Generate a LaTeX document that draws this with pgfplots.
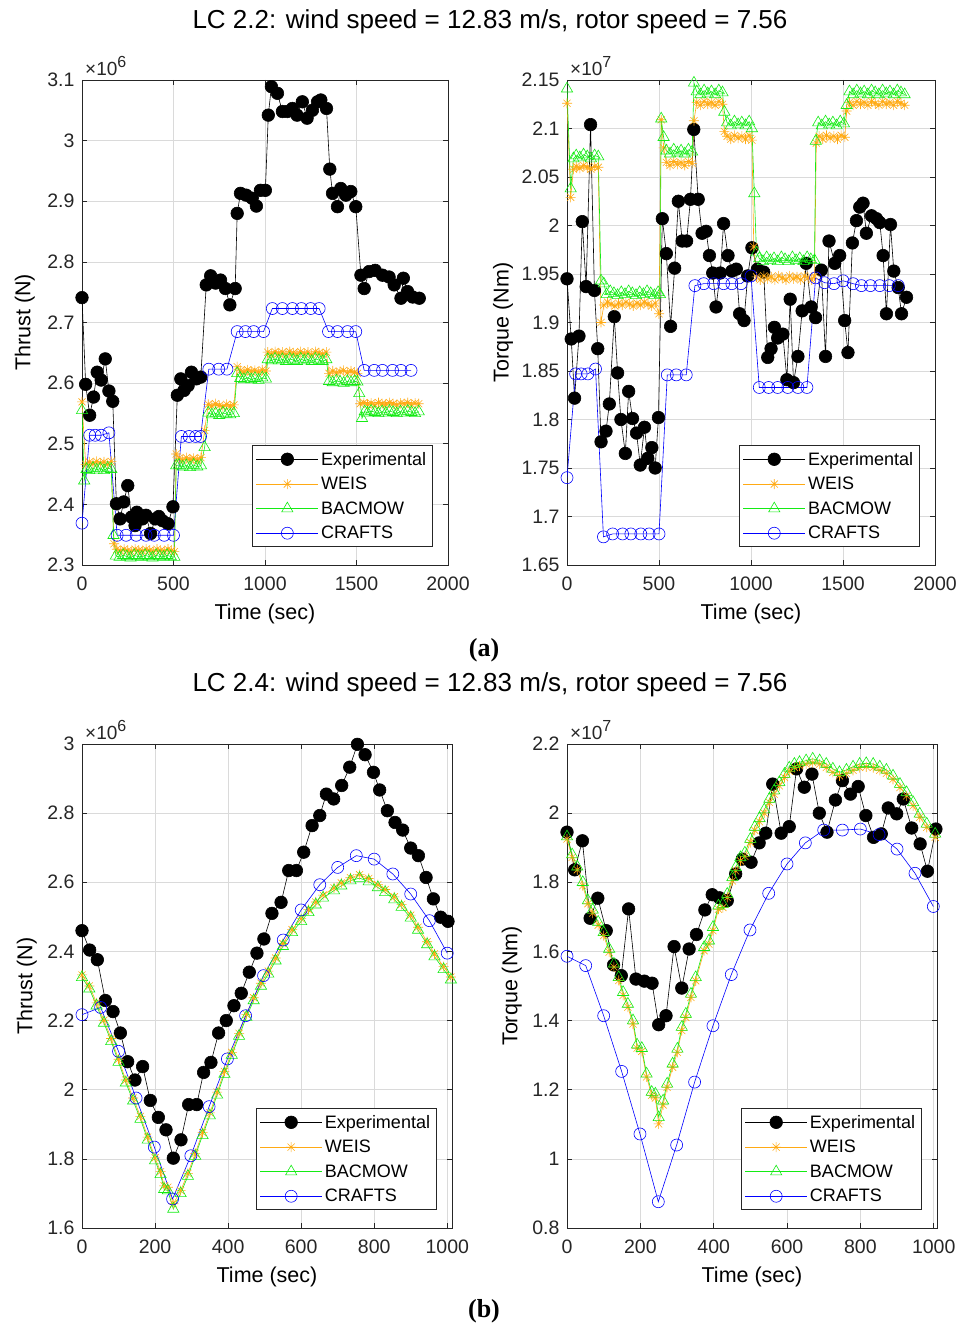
\documentclass[border=0pt]{standalone}
\usepackage{fontspec}
\setmainfont{Liberation Sans}
\newfontfamily\seriffont{Liberation Serif}
\usepackage{pgfplots}
\pgfplotsset{compat=1.18}
\definecolor{weis}{RGB}{255,170,20}
\definecolor{bac}{RGB}{20,235,20}
\definecolor{crafts}{RGB}{0,0,255}
\definecolor{axgray}{RGB}{38,38,38}
\definecolor{gridgray}{RGB}{218,218,218}
\pgfdeclareplotmark{ast8}{%
 \pgfpathmoveto{\pgfqpoint{-\pgfplotmarksize}{0pt}}\pgfpathlineto{\pgfqpoint{\pgfplotmarksize}{0pt}}%
 \pgfpathmoveto{\pgfqpoint{0pt}{-\pgfplotmarksize}}\pgfpathlineto{\pgfqpoint{0pt}{\pgfplotmarksize}}%
 \pgfpathmoveto{\pgfqpoint{-0.707\pgfplotmarksize}{-0.707\pgfplotmarksize}}\pgfpathlineto{\pgfqpoint{0.707\pgfplotmarksize}{0.707\pgfplotmarksize}}%
 \pgfpathmoveto{\pgfqpoint{-0.707\pgfplotmarksize}{0.707\pgfplotmarksize}}\pgfpathlineto{\pgfqpoint{0.707\pgfplotmarksize}{-0.707\pgfplotmarksize}}%
 \pgfusepathqstroke}
\pgfplotsset{
 mat/.style={
  scale only axis, anchor=south west,
  axis line style={axgray, line width=0.7pt},
  tick style={axgray, line width=0.7pt},
  major tick length=5pt,
  tick align=inside, tick pos=both,
  grid=major,
  major grid style={gridgray, line width=0.6pt},
  scaled ticks=false,
  /pgf/number format/1000 sep={},
  /pgf/number format/assume math mode=true,
  ticklabel style={font=\fontsize{19.5}{21}\selectfont, text=black!85},
  xticklabel style={yshift=-8pt},
  yticklabel style={xshift=-4pt},
  clip marker paths=false,
  legend style={font=\fontsize{18}{20}\selectfont, draw=axgray, fill=white, line width=0.6pt,
    at={(0.959,0.037)}, anchor=south east, cells={anchor=west},
    nodes={inner xsep=2.5pt, inner ysep=1pt}, inner xsep=4pt, inner ysep=5.5pt, row sep=8.5pt},
  legend image code/.code={\draw[mark repeat=2,mark phase=2] plot coordinates {(0pt,0pt) (31pt,0pt) (62pt,0pt)};},
  legend entries={Experimental,WEIS,BACMOW,CRAFTS},
 },
 expstyle/.style={black, line width=0.6pt, mark=*, mark size=6.3pt, mark options={solid}},
 weisstyle/.style={weis, line width=0.6pt, mark=ast8, mark size=5pt, mark options={solid}},
 bacstyle/.style={bac, line width=0.6pt, mark=triangle, mark size=6.5pt, mark options={solid}},
 craftsstyle/.style={crafts, line width=0.6pt, mark=o, mark size=6pt, mark options={solid}},
}
\newcommand{\lbl}{\fontsize{21.5}{23}\selectfont}
\newcommand{\ttl}{\fontsize{21}{23}\selectfont\bfseries}
\newcommand{\bigtitle}{\fontsize{26}{28}\selectfont}
\newcommand{\expolabel}[1]{\fontsize{19}{21}\selectfont\char"00D7 10\raisebox{8.5pt}{\fontsize{16}{18}\selectfont #1}}
\begin{document}
\begin{tikzpicture}
\useasboundingbox (0pt,0pt) rectangle (965pt,1327pt);
\node[font=\bigtitle] at (490pt,1305pt) {LC 2.2: wind speed = 12.83 m/s, rotor speed = 7.56};
\node[font=\bigtitle] at (490pt,642pt) {LC 2.4: wind speed = 12.83 m/s, rotor speed = 7.56};
\node[font=\seriffont\bfseries\fontsize{26}{28}\selectfont] at (484pt,677pt) {(a)};
\node[font=\seriffont\bfseries\fontsize{26}{28}\selectfont] at (484pt,16pt) {(b)};
% exponent labels
\node[anchor=base west, inner sep=0pt, text=black!85] at (85pt,1251pt) {\expolabel{6}};
\node[anchor=base west, inner sep=0pt, text=black!85] at (570pt,1251pt) {\expolabel{7}};
\node[anchor=base west, inner sep=0pt, text=black!85] at (85pt,587pt) {\expolabel{6}};
\node[anchor=base west, inner sep=0pt, text=black!85] at (570pt,587pt) {\expolabel{7}};

% ---------------- Top-left: Thrust LC 2.2
\begin{axis}[mat, at={(82pt,762pt)}, width=366pt, height=485pt,
  xmin=0, xmax=2000, ymin=2.3, ymax=3.1,
  xtick={0,500,1000,1500,2000}, ytick={2.3,2.4,2.5,2.6,2.7,2.8,2.9,3.0,3.1},
  xlabel={\lbl Time (sec)}, ylabel={\lbl Thrust (N)},
  xlabel style={at={(axis description cs:0.5,-0.101)}, anchor=center},
  ylabel style={at={(axis description cs:-0.156,0.5)}, anchor=center}]
\addplot[expstyle] coordinates {(0,2.741)(20,2.598)(42,2.547)(63,2.577)(83,2.618)(105,2.605)(127,2.640)(147,2.587)(168,2.570)(188,2.401)(208,2.376)(228,2.404)(250,2.431)(270,2.379)(290,2.365)(300,2.387)(330,2.376)(350,2.382)(375,2.352)(400,2.376)(420,2.380)(440,2.373)(470,2.368)(497,2.396)(521,2.580)(540,2.607)(558,2.588)(580,2.596)(598,2.618)(625,2.607)(649,2.610)(679,2.762)(703,2.777)(730,2.765)(757,2.770)(784,2.756)(808,2.729)(837,2.756)(848,2.880)(866,2.913)(897,2.910)(929,2.905)(953,2.892)(975,2.918)(1002,2.918)(1018,3.042)(1035,3.089)(1068,3.078)(1095,3.048)(1122,3.048)(1150,3.053)(1175,3.042)(1204,3.064)(1230,3.037)(1259,3.050)(1287,3.064)(1305,3.067)(1336,3.053)(1354,2.953)(1369,2.913)(1396,2.891)(1414,2.921)(1442,2.910)(1469,2.916)(1496,2.891)(1524,2.778)(1542,2.756)(1569,2.784)(1602,2.786)(1642,2.778)(1678,2.775)(1706,2.762)(1743,2.740)(1756,2.773)(1779,2.751)(1807,2.742)(1843,2.740)};
\addplot[weisstyle] coordinates {(0,2.569)(20,2.466)(40,2.470)(60,2.467)(80,2.471)(100,2.468)(120,2.470)(140,2.466)(160,2.471)(175,2.335)(190,2.326)(210,2.323)(230,2.326)(250,2.324)(270,2.322)(290,2.326)(310,2.324)(330,2.323)(350,2.326)(370,2.324)(390,2.322)(410,2.326)(430,2.324)(450,2.323)(470,2.326)(490,2.324)(505,2.322)(515,2.483)(530,2.476)(550,2.473)(570,2.477)(590,2.474)(610,2.476)(630,2.473)(650,2.477)(670,2.522)(690,2.565)(710,2.562)(730,2.566)(750,2.563)(770,2.561)(790,2.565)(810,2.562)(830,2.564)(848,2.627)(865,2.621)(885,2.618)(905,2.622)(925,2.619)(945,2.621)(965,2.618)(985,2.622)(1005,2.620)(1015,2.651)(1035,2.648)(1055,2.652)(1075,2.649)(1095,2.651)(1115,2.647)(1135,2.652)(1155,2.650)(1175,2.648)(1195,2.652)(1215,2.649)(1235,2.651)(1255,2.647)(1275,2.652)(1295,2.650)(1315,2.648)(1335,2.651)(1350,2.616)(1370,2.620)(1390,2.617)(1410,2.619)(1430,2.621)(1450,2.617)(1470,2.620)(1490,2.618)(1505,2.616)(1520,2.566)(1540,2.568)(1560,2.565)(1580,2.567)(1600,2.564)(1620,2.568)(1640,2.566)(1660,2.565)(1680,2.568)(1700,2.566)(1720,2.564)(1740,2.567)(1760,2.566)(1780,2.568)(1800,2.565)(1820,2.567)(1840,2.566)};
\addplot[bacstyle] coordinates {(0,2.555)(12,2.439)(25,2.458)(40,2.456)(60,2.460)(80,2.457)(100,2.459)(120,2.456)(140,2.460)(160,2.458)(172,2.349)(185,2.315)(205,2.313)(225,2.316)(245,2.314)(265,2.312)(285,2.316)(305,2.314)(325,2.313)(345,2.316)(365,2.314)(385,2.312)(405,2.316)(425,2.314)(445,2.313)(465,2.316)(485,2.314)(505,2.313)(515,2.464)(530,2.465)(550,2.462)(570,2.464)(590,2.461)(610,2.465)(630,2.462)(650,2.464)(670,2.494)(690,2.551)(710,2.548)(730,2.550)(750,2.547)(770,2.551)(790,2.549)(810,2.548)(830,2.550)(848,2.616)(865,2.608)(885,2.606)(905,2.609)(925,2.606)(945,2.608)(965,2.605)(985,2.609)(1005,2.607)(1015,2.639)(1035,2.637)(1055,2.640)(1075,2.637)(1095,2.639)(1115,2.636)(1135,2.640)(1155,2.638)(1175,2.636)(1195,2.640)(1215,2.637)(1235,2.639)(1255,2.636)(1275,2.640)(1295,2.638)(1315,2.636)(1335,2.639)(1350,2.603)(1370,2.601)(1390,2.604)(1410,2.602)(1430,2.600)(1450,2.603)(1470,2.601)(1490,2.603)(1505,2.602)(1515,2.583)(1530,2.542)(1545,2.553)(1560,2.551)(1580,2.554)(1600,2.552)(1620,2.550)(1640,2.553)(1660,2.551)(1680,2.554)(1700,2.552)(1720,2.550)(1740,2.553)(1760,2.551)(1780,2.554)(1800,2.552)(1820,2.550)(1840,2.553)};
\addplot[craftsstyle] coordinates {(0,2.369)(42,2.514)(72,2.514)(105,2.514)(147,2.518)(192,2.349)(241,2.349)(296,2.349)(350,2.349)(395,2.349)(449,2.349)(500,2.349)(543,2.512)(585,2.512)(621,2.512)(648,2.512)(693,2.623)(747,2.623)(792,2.623)(848,2.685)(893,2.685)(938,2.685)(992,2.685)(1040,2.723)(1095,2.723)(1150,2.723)(1199,2.723)(1250,2.723)(1296,2.723)(1347,2.685)(1396,2.685)(1451,2.685)(1496,2.685)(1542,2.621)(1597,2.621)(1642,2.621)(1697,2.621)(1743,2.621)(1798,2.621)};
\node[font=\ttl, anchor=base] at (axis description cs:0.5,1) [yshift=10pt] {Thrust};
\end{axis}

% ---------------- Top-right: Torque LC 2.2
\begin{axis}[mat, at={(567pt,762pt)}, width=368pt, height=485pt,
  xmin=0, xmax=2000, ymin=1.65, ymax=2.15,
  xtick={0,500,1000,1500,2000}, ytick={1.65,1.7,1.75,1.8,1.85,1.9,1.95,2.0,2.05,2.1,2.15},
  xlabel={\lbl Time (sec)}, ylabel={\lbl Torque (Nm)},
  xlabel style={at={(axis description cs:0.5,-0.101)}, anchor=center},
  ylabel style={at={(axis description cs:-0.174,0.5)}, anchor=center}]
\addplot[expstyle] coordinates {(0,1.945)(23,1.883)(41,1.822)(65,1.886)(83,2.004)(104,1.937)(128,2.104)(149,1.933)(167,1.873)(185,1.777)(212,1.788)(230,1.816)(257,1.906)(275,1.848)(293,1.800)(317,1.765)(335,1.829)(356,1.801)(378,1.786)(398,1.753)(421,1.792)(439,1.760)(461,1.771)(479,1.750)(497,1.802)(518,2.007)(540,1.971)(563,1.896)(585,1.956)(605,2.025)(626,1.984)(650,1.984)(671,2.027)(689,2.099)(713,2.027)(734,1.992)(756,1.994)(774,1.969)(792,1.951)(810,1.916)(833,1.951)(851,2.002)(875,1.969)(896,1.953)(920,1.955)(938,1.909)(962,1.902)(982,1.948)(1005,1.977)(1035,1.955)(1069,1.952)(1091,1.864)(1109,1.873)(1127,1.895)(1145,1.884)(1173,1.888)(1195,1.841)(1213,1.924)(1231,1.838)(1255,1.865)(1278,1.912)(1300,1.961)(1327,1.916)(1351,1.905)(1382,1.954)(1405,1.865)(1424,1.984)(1455,1.961)(1482,1.969)(1509,1.902)(1527,1.869)(1551,1.982)(1573,2.005)(1591,2.019)(1609,2.023)(1627,1.992)(1655,2.010)(1682,2.007)(1700,2.003)(1718,1.969)(1736,1.909)(1758,2.001)(1776,1.953)(1800,1.936)(1818,1.909)(1845,1.926)};
\addplot[weisstyle] coordinates {(0,2.126)(20,2.029)(35,2.058)(50,2.061)(70,2.059)(90,2.062)(110,2.060)(130,2.058)(150,2.061)(170,2.060)(185,1.900)(200,1.918)(220,1.921)(240,1.919)(260,1.917)(280,1.920)(300,1.918)(320,1.921)(340,1.919)(360,1.917)(380,1.920)(400,1.918)(420,1.921)(440,1.919)(460,1.917)(480,1.920)(500,1.909)(512,2.109)(525,2.080)(540,2.065)(560,2.062)(580,2.066)(600,2.063)(620,2.065)(640,2.062)(660,2.066)(680,2.064)(690,2.108)(705,2.127)(725,2.124)(745,2.128)(765,2.125)(785,2.127)(805,2.124)(825,2.128)(845,2.125)(855,2.097)(870,2.092)(890,2.089)(910,2.093)(930,2.090)(950,2.092)(970,2.089)(990,2.093)(1005,2.088)(1015,1.978)(1030,1.947)(1050,1.944)(1070,1.948)(1090,1.945)(1110,1.947)(1130,1.944)(1150,1.948)(1170,1.946)(1190,1.944)(1210,1.948)(1230,1.945)(1250,1.947)(1270,1.944)(1290,1.948)(1310,1.946)(1330,1.944)(1345,1.948)(1355,2.085)(1370,2.092)(1390,2.089)(1410,2.093)(1430,2.090)(1450,2.092)(1470,2.089)(1490,2.093)(1510,2.091)(1520,2.118)(1535,2.127)(1555,2.124)(1575,2.128)(1595,2.125)(1615,2.127)(1635,2.124)(1655,2.128)(1675,2.126)(1695,2.124)(1715,2.128)(1735,2.125)(1755,2.127)(1775,2.124)(1795,2.128)(1815,2.126)(1835,2.124)};
\addplot[bacstyle] coordinates {(0,2.141)(20,2.038)(35,2.069)(50,2.072)(70,2.070)(90,2.073)(110,2.071)(130,2.069)(150,2.072)(170,2.071)(185,1.943)(200,1.940)(215,1.929)(235,1.932)(255,1.930)(275,1.928)(295,1.931)(315,1.929)(335,1.932)(355,1.930)(375,1.928)(395,1.931)(415,1.929)(435,1.932)(455,1.930)(475,1.928)(495,1.931)(505,1.929)(512,2.110)(525,2.091)(540,2.077)(560,2.074)(580,2.078)(600,2.075)(620,2.077)(640,2.074)(660,2.078)(680,2.076)(690,2.147)(705,2.138)(725,2.135)(745,2.139)(765,2.136)(785,2.138)(805,2.135)(825,2.139)(845,2.137)(855,2.117)(870,2.106)(890,2.103)(910,2.107)(930,2.104)(950,2.106)(970,2.103)(990,2.107)(1005,2.100)(1018,2.033)(1030,1.972)(1045,1.966)(1065,1.963)(1085,1.967)(1105,1.964)(1125,1.966)(1145,1.963)(1165,1.967)(1185,1.965)(1205,1.963)(1225,1.967)(1245,1.964)(1265,1.966)(1285,1.963)(1305,1.967)(1325,1.965)(1345,1.964)(1352,2.087)(1365,2.106)(1385,2.103)(1405,2.107)(1425,2.104)(1445,2.106)(1465,2.103)(1485,2.107)(1505,2.105)(1520,2.124)(1535,2.138)(1555,2.135)(1575,2.139)(1595,2.136)(1615,2.138)(1635,2.135)(1655,2.139)(1675,2.137)(1695,2.135)(1715,2.139)(1735,2.136)(1755,2.138)(1775,2.135)(1795,2.139)(1815,2.137)(1835,2.135)};
\addplot[craftsstyle] coordinates {(0,1.740)(47,1.847)(77,1.847)(113,1.847)(155,1.852)(198,1.679)(248,1.682)(302,1.682)(347,1.682)(401,1.682)(446,1.682)(500,1.682)(545,1.846)(594,1.846)(648,1.846)(695,1.938)(743,1.940)(797,1.940)(851,1.940)(896,1.940)(946,1.940)(1000,1.948)(1045,1.833)(1096,1.833)(1145,1.833)(1200,1.833)(1255,1.833)(1304,1.833)(1351,1.946)(1400,1.941)(1451,1.940)(1500,1.943)(1555,1.940)(1600,1.938)(1649,1.938)(1700,1.938)(1751,1.938)(1800,1.938)};
\node[font=\ttl, anchor=base] at (axis description cs:0.5,1) [yshift=10pt] {Torque};
\end{axis}

% ---------------- Bottom-left: Thrust LC 2.4
\begin{axis}[mat, at={(82pt,99pt)}, width=370pt, height=484pt,
  xmin=0, xmax=1013, ymin=1.6, ymax=3.0,
  xtick={0,200,400,600,800,1000}, ytick={1.6,1.8,2.0,2.2,2.4,2.6,2.8,3.0},
  xlabel={\lbl Time (sec)}, ylabel={\lbl Thrust (N)},
  xlabel style={at={(axis description cs:0.5,-0.101)}, anchor=center},
  ylabel style={at={(axis description cs:-0.149,0.5)}, anchor=center}]
\addplot[expstyle] coordinates {(0,2.460)(21,2.404)(42,2.376)(64,2.258)(85,2.226)(105,2.164)(125,2.081)(145,2.028)(166,2.067)(187,1.969)(209,1.920)(230,1.884)(250,1.802)(271,1.855)(292,1.957)(314,1.957)(333,2.050)(353,2.079)(374,2.164)(395,2.200)(416,2.243)(436,2.279)(458,2.340)(479,2.395)(498,2.436)(520,2.510)(545,2.542)(566,2.634)(587,2.634)(607,2.687)(630,2.764)(651,2.793)(669,2.855)(689,2.841)(711,2.880)(733,2.933)(754,2.999)(775,2.969)(798,2.918)(815,2.867)(836,2.807)(857,2.773)(878,2.751)(900,2.699)(921,2.677)(942,2.614)(962,2.552)(982,2.499)(1002,2.487)};
\addplot[weisstyle] coordinates {(0,2.332)(20,2.300)(40,2.251)(60,2.201)(80,2.148)(100,2.088)(120,2.028)(140,1.976)(160,1.923)(180,1.863)(200,1.803)(215,1.763)(225,1.722)(235,1.718)(250,1.670)(270,1.708)(290,1.758)(310,1.816)(330,1.876)(350,1.933)(370,1.993)(390,2.053)(410,2.108)(430,2.163)(450,2.218)(470,2.266)(490,2.308)(510,2.343)(530,2.381)(550,2.423)(575,2.463)(600,2.495)(620,2.521)(640,2.543)(660,2.563)(690,2.584)(710,2.598)(735,2.613)(760,2.622)(785,2.611)(810,2.593)(830,2.579)(855,2.558)(875,2.536)(900,2.505)(920,2.470)(945,2.428)(965,2.393)(990,2.356)(1010,2.326)};
\addplot[bacstyle] coordinates {(0,2.325)(20,2.292)(40,2.243)(60,2.193)(80,2.140)(100,2.080)(120,2.020)(140,1.968)(160,1.915)(180,1.855)(200,1.795)(215,1.755)(225,1.712)(235,1.708)(250,1.655)(270,1.700)(290,1.750)(310,1.808)(330,1.868)(350,1.925)(370,1.985)(390,2.045)(410,2.100)(430,2.155)(450,2.210)(470,2.258)(490,2.300)(510,2.335)(530,2.373)(550,2.415)(575,2.455)(600,2.487)(620,2.513)(640,2.535)(660,2.555)(690,2.576)(710,2.590)(735,2.605)(760,2.612)(785,2.602)(810,2.585)(830,2.571)(855,2.550)(875,2.528)(900,2.497)(920,2.462)(945,2.420)(965,2.385)(990,2.348)(1010,2.318)};
\addplot[craftsstyle] coordinates {(0,2.217)(51,2.238)(100,2.111)(148,1.976)(198,1.834)(248,1.684)(298,1.809)(348,1.951)(398,2.089)(448,2.214)(497,2.330)(551,2.433)(600,2.520)(651,2.593)(700,2.643)(751,2.677)(800,2.667)(851,2.624)(900,2.566)(951,2.489)(1000,2.395)};
\node[font=\ttl, anchor=base] at (axis description cs:0.5,1) [yshift=10pt] {Thrust};
\end{axis}

% ---------------- Bottom-right: Torque LC 2.4
\begin{axis}[mat, at={(567pt,99pt)}, width=370pt, height=484pt,
  xmin=0, xmax=1009, ymin=0.8, ymax=2.2,
  xtick={0,200,400,600,800,1000}, ytick={0.8,1.0,1.2,1.4,1.6,1.8,2.0,2.2},
  xlabel={\lbl Time (sec)}, ylabel={\lbl Torque (Nm)},
  xlabel style={at={(axis description cs:0.5,-0.101)}, anchor=center},
  ylabel style={at={(axis description cs:-0.149,0.5)}, anchor=center}]
\addplot[expstyle] coordinates {(0,1.945)(21,1.836)(42,1.920)(63,1.696)(84,1.754)(107,1.660)(127,1.561)(148,1.530)(168,1.723)(188,1.520)(211,1.514)(232,1.508)(250,1.388)(270,1.414)(292,1.614)(313,1.494)(333,1.607)(353,1.649)(376,1.720)(396,1.764)(416,1.755)(437,1.747)(460,1.824)(478,1.867)(502,1.858)(524,1.914)(542,1.942)(561,2.084)(584,1.942)(606,1.961)(626,2.128)(647,2.075)(668,2.113)(688,2.000)(709,1.945)(732,2.038)(751,2.094)(773,2.055)(794,2.077)(815,1.993)(836,1.930)(857,1.940)(876,2.015)(899,1.998)(917,2.041)(940,1.957)(963,1.911)(983,1.832)(1006,1.954)};
\addplot[weisstyle] coordinates {(0,1.925)(14,1.872)(28,1.836)(43,1.790)(57,1.738)(70,1.711)(85,1.676)(100,1.646)(115,1.598)(128,1.555)(141,1.516)(153,1.473)(166,1.439)(180,1.390)(191,1.320)(204,1.311)(217,1.237)(231,1.184)(241,1.176)(250,1.101)(262,1.156)(273,1.207)(288,1.265)(301,1.308)(313,1.371)(324,1.409)(338,1.467)(351,1.515)(374,1.602)(387,1.621)(398,1.660)(413,1.722)(425,1.727)(437,1.756)(451,1.804)(460,1.833)(473,1.862)(485,1.875)(500,1.915)(512,1.950)(525,1.975)(538,2.000)(552,2.031)(565,2.055)(579,2.079)(593,2.103)(606,2.121)(620,2.132)(634,2.137)(652,2.142)(670,2.146)(689,2.142)(707,2.132)(725,2.118)(743,2.108)(762,2.115)(780,2.124)(798,2.132)(816,2.134)(835,2.132)(853,2.124)(871,2.115)(889,2.098)(908,2.074)(926,2.050)(944,2.021)(962,1.988)(981,1.959)(1004,1.930)};
\addplot[bacstyle] coordinates {(0,1.932)(14,1.880)(28,1.845)(43,1.800)(57,1.747)(70,1.720)(85,1.685)(100,1.655)(115,1.607)(128,1.564)(141,1.525)(153,1.482)(166,1.448)(180,1.400)(191,1.330)(204,1.320)(217,1.246)(231,1.193)(241,1.188)(250,1.120)(262,1.168)(273,1.217)(288,1.275)(301,1.318)(313,1.381)(324,1.419)(338,1.477)(351,1.525)(374,1.612)(387,1.631)(398,1.670)(413,1.732)(425,1.737)(437,1.766)(451,1.814)(460,1.843)(473,1.872)(485,1.885)(500,1.925)(512,1.960)(525,1.985)(538,2.010)(552,2.041)(565,2.065)(579,2.089)(593,2.113)(606,2.131)(620,2.142)(634,2.147)(652,2.152)(670,2.157)(689,2.152)(707,2.142)(725,2.128)(743,2.118)(762,2.125)(780,2.134)(798,2.142)(816,2.144)(835,2.142)(853,2.134)(871,2.125)(889,2.108)(908,2.084)(926,2.060)(944,2.031)(962,1.998)(981,1.969)(1004,1.940)};
\addplot[craftsstyle] coordinates {(0,1.586)(51,1.559)(100,1.414)(149,1.253)(199,1.072)(249,0.876)(299,1.040)(348,1.222)(398,1.385)(448,1.533)(499,1.662)(550,1.768)(600,1.853)(650,1.914)(700,1.951)(751,1.951)(800,1.954)(851,1.938)(900,1.896)(949,1.826)(999,1.730)};
\node[font=\ttl, anchor=base] at (axis description cs:0.5,1) [yshift=10pt] {Torque};
\end{axis}
\end{tikzpicture}
\end{document}
